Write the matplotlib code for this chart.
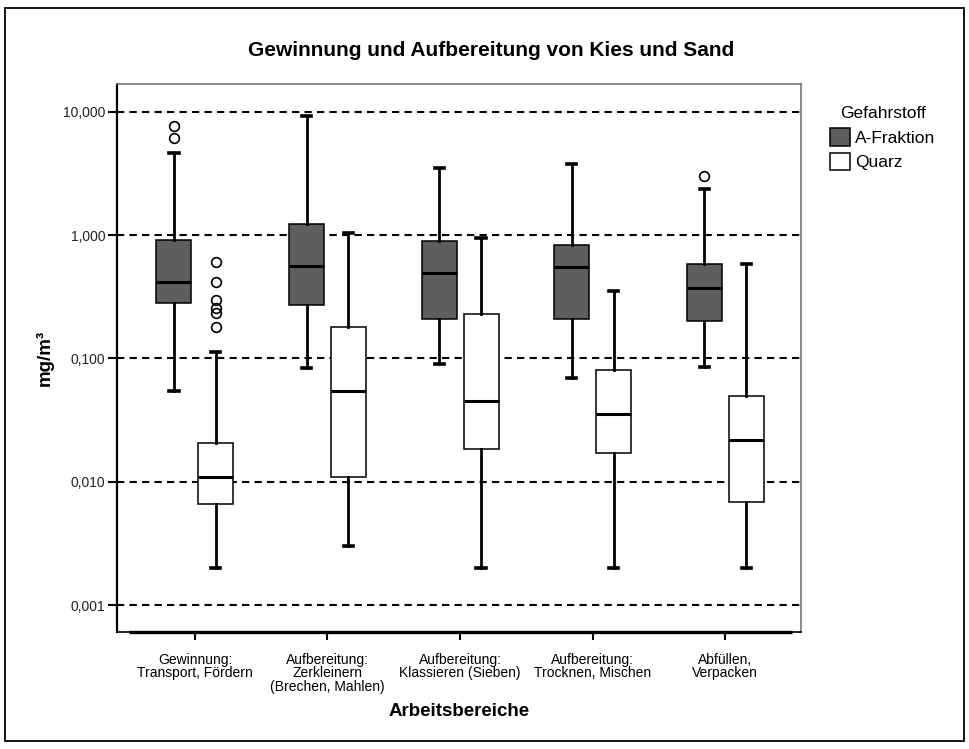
"""
Boxplot: Gewinnung und Aufbereitung von Kies und Sand
A-Fraktion vs. Quarz per Arbeitsbereich (log scale, mg/m3).
"""

import numpy as np
import matplotlib
matplotlib.use("Agg")
import matplotlib.pyplot as plt
from matplotlib.patches import Patch, Rectangle
from matplotlib.ticker import FixedLocator, FuncFormatter, NullLocator

plt.rcParams["font.family"] = ["Liberation Sans", "DejaVu Sans"]

categories = [
    "Gewinnung:\nTransport, Fördern",
    "Aufbereitung:\nZerkleinern\n(Brechen, Mahlen)",
    "Aufbereitung:\nKlassieren (Sieben)",
    "Aufbereitung:\nTrocknen, Mischen",
    "Abfüllen,\nVerpacken",
]

# A-Fraktion
afr_whislo = [0.055, 0.084, 0.090, 0.070, 0.085]
afr_q1 = [0.28, 0.27, 0.21, 0.21, 0.20]
afr_med = [0.415, 0.56, 0.49, 0.55, 0.37]
afr_q3 = [0.915, 1.23, 0.90, 0.83, 0.58]
afr_whishi = [4.6, 9.3, 3.5, 3.75, 2.35]
afr_fliers = [[6.1, 7.6], [], [], [], [3.0]]

# Quarz
qz_whislo = [0.002, 0.003, 0.002, 0.002, 0.002]
qz_q1 = [0.0066, 0.011, 0.0185, 0.017, 0.0069]
qz_med = [0.011, 0.0545, 0.045, 0.0355, 0.022]
qz_q3 = [0.0207, 0.179, 0.23, 0.080, 0.050]
qz_whishi = [0.112, 1.04, 0.94, 0.35, 0.58]
qz_fliers = [[0.18, 0.235, 0.255, 0.30, 0.42, 0.60], [], [], [], []]

series = ["A-Fraktion", "Quarz"]
y_ticks = [0.001, 0.01, 0.1, 1, 10]

W, H = 970, 749
fig = plt.figure(figsize=(W / 100, H / 100), dpi=100)
ax = fig.add_axes([117 / W, 1 - 632 / H, (801 - 117) / W, (632 - 84) / H])


def make_stats(lo, q1, med, q3, hi, fl):
    return [dict(whislo=a, q1=b, med=c, q3=d, whishi=e, fliers=f)
            for a, b, c, d, e, f in zip(lo, q1, med, q3, hi, fl)]


x = np.arange(len(categories))
offset = 0.158
width = 0.264

common = dict(
    widths=width, patch_artist=True, manage_ticks=False, capwidths=0.07,
    whiskerprops=dict(color="black", lw=2.0),
    capprops=dict(color="black", lw=2.6),
    medianprops=dict(color="black", lw=2.2),
    flierprops=dict(marker="o", markerfacecolor="none", markeredgecolor="black",
                    markersize=7, markeredgewidth=1.2),
)

ax.bxp(make_stats(afr_whislo, afr_q1, afr_med, afr_q3, afr_whishi, afr_fliers),
       positions=x - offset,
       boxprops=dict(facecolor="#5e5e5e", edgecolor="black", lw=1.1),
       **common)
ax.bxp(make_stats(qz_whislo, qz_q1, qz_med, qz_q3, qz_whishi, qz_fliers),
       positions=x + offset,
       boxprops=dict(facecolor="white", edgecolor="black", lw=1.1),
       **common)

ax.set_yscale("log")
ax.set_ylim(0.000607, 16.78)
ax.set_xlim(-0.5875, 4.571)

for v in y_ticks:
    ax.axhline(v, color="black", lw=1.5, linestyle=(0, (3.5, 2.5)), zorder=0.5)

ax.yaxis.set_major_locator(FixedLocator(y_ticks))
ax.yaxis.set_minor_locator(NullLocator())
ax.yaxis.set_major_formatter(FuncFormatter(lambda v, p: f"{v:.3f}".replace(".", ",")))
ax.tick_params(axis="y", direction="out", length=6.5, width=1.5, pad=2,
               labelsize=10, labelcolor="#222222")

ax.set_xticks(x)
ax.set_xticklabels(categories, fontsize=10, linespacing=0.95)
ax.tick_params(axis="x", direction="out", length=6, width=1.5, pad=9)

for side in ["top", "right"]:
    ax.spines[side].set_color("#777777")
    ax.spines[side].set_linewidth(1.2)
ax.spines["left"].set_linewidth(1.6)
ax.spines["bottom"].set_linewidth(1.2)

# thick baseline like the original
ax.plot([-0.5, 4.5], [0.000607, 0.000607], color="black", lw=2.4,
        clip_on=False, solid_capstyle="butt", zorder=5)

fig.text(491 / W, 1 - 51 / H, "Gewinnung und Aufbereitung von Kies und Sand",
         ha="center", va="center", fontsize=15, fontweight="bold")
fig.text(459 / W, 1 - 712 / H, "Arbeitsbereiche", ha="center", va="center",
         fontsize=13.5, fontweight="bold")
fig.text(45 / W, 1 - 358 / H, "mg/m³", ha="center", va="center", rotation=90,
         fontsize=13.5, fontweight="bold")

handles = [Patch(facecolor="#5e5e5e", edgecolor="black", lw=1.1),
           Patch(facecolor="white", edgecolor="black", lw=1.1)]
leg = fig.legend(handles, series, title="Gefahrstoff", loc="upper left",
                 bbox_to_anchor=(830 / W, 1 - 106 / H), frameon=False,
                 fontsize=12.5, title_fontsize=12.5, handlelength=1.15,
                 handleheight=1.2, handletextpad=0.3, labelspacing=0.4,
                 borderpad=0, borderaxespad=0)

fig.add_artist(Rectangle((5 / W, 8 / H), (964 - 5) / W, (741 - 8) / H,
                         transform=fig.transFigure, fill=False,
                         edgecolor="black", lw=1.3))

fig.savefig("out.png", dpi=100)
